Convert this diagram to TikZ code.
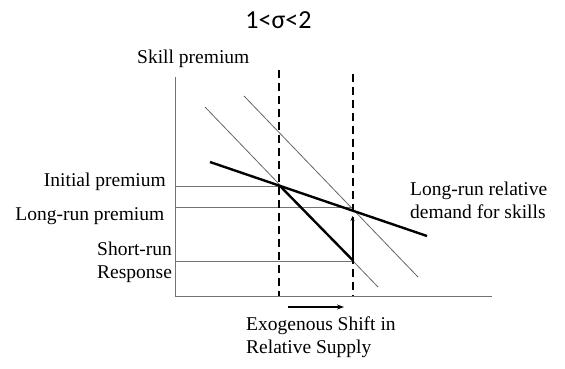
\documentclass[tikz,border=0pt]{standalone}
\usepackage{fontspec}
\setmainfont{Liberation Serif}
\newfontfamily\titlefont{Carlito}
\usetikzlibrary{arrows.meta}
\begin{document}
\begin{tikzpicture}[x=1pt,y=-1pt,
  lbl/.style={inner sep=0pt,font=\fontsize{19.5}{23}\selectfont},
  axisline/.style={draw=black!55,line width=0.9pt},
  thinline/.style={draw=black!60,line width=0.8pt},
  guide/.style={draw=black!55,line width=0.9pt},
  thick curve/.style={draw=black,line width=2.4pt},
  dashedline/.style={draw=black,line width=2.5pt,dash pattern=on 8pt off 5pt},
  shiftarrow/.style={draw=black,line width=1.4pt,-{Stealth[length=7pt,width=5pt]}},
  uparrow/.style={draw=black,line width=2pt,-{Stealth[length=5pt,width=4pt]}}]
\useasboundingbox (0,0) rectangle (565,368);
% key coordinates
\coordinate (O) at (175,296);
\coordinate (ytop) at (175,77);
\coordinate (xend) at (492,296);
\coordinate (A) at (280,186);
\coordinate (B) at (352.5,210);
\coordinate (C) at (352.5,260);
\coordinate (Bt) at (352.5,216);
\coordinate (d1t) at (279,70);
\coordinate (d1b) at (279,296);
\coordinate (d2t) at (353,74);
\coordinate (d2b) at (353,296);
\coordinate (s1a) at (205,107);
\coordinate (s1b) at (378,287);
\coordinate (s2a) at (244,96);
\coordinate (s2b) at (418,277);
\coordinate (la) at (210,162);
\coordinate (lb) at (427,236);
\coordinate (h1) at (175,186);
\coordinate (h2a) at (175,207);
\coordinate (h2b) at (352.5,207);
\coordinate (h3a) at (175,261);
\coordinate (h3b) at (352.5,261);
\coordinate (ar1) at (288,307);
\coordinate (ar2) at (344,307);
% title
\node[inner sep=0pt,anchor=base,font=\titlefont\fontsize{26}{30}\selectfont] (title) at (278.5,28) {1<σ<2};
% axes
\draw[axisline] (ytop) -- (O) -- (xend);
% guides
\draw[guide] (h1) -- (A);
\draw[guide] (h2a) -- (h2b);
\draw[guide] (h3a) -- (h3b);
% thin lines
\draw[thinline] (s1a) -- (s1b);
\draw[thinline] (s2a) -- (s2b);
% dashed supply lines
\draw[dashedline] (d1t) -- (d1b);
\draw[dashedline] (d2t) -- (d2b);
% long-run demand
\draw[thick curve] (la) -- (lb);
% short-run response
\draw[thick curve] (A) -- (C);
\draw[uparrow] (C) -- (Bt);
% shift arrow
\draw[shiftarrow] (ar1) -- (ar2);
% labels
\node[lbl,anchor=base west] (yl) at (137,63) {Skill premium};
\node[lbl,anchor=base east] (ip) at (166,186) {Initial premium};
\node[lbl,anchor=base east] (lp) at (164.5,220) {Long-run premium};
\node[lbl,anchor=base west] (sr1) at (97,255) {Short-run};
\node[lbl,anchor=base west] (sr2) at (97,278) {Response};
\node[lbl,anchor=base west] (ld1) at (410,195) {Long-run relative};
\node[lbl,anchor=base west] (ld2) at (410,218) {demand for skills};
\node[lbl,anchor=base west] (ex1) at (246,330) {Exogenous Shift in};
\node[lbl,anchor=base west] (ex2) at (246,353) {Relative Supply};
\end{tikzpicture}
\end{document}
